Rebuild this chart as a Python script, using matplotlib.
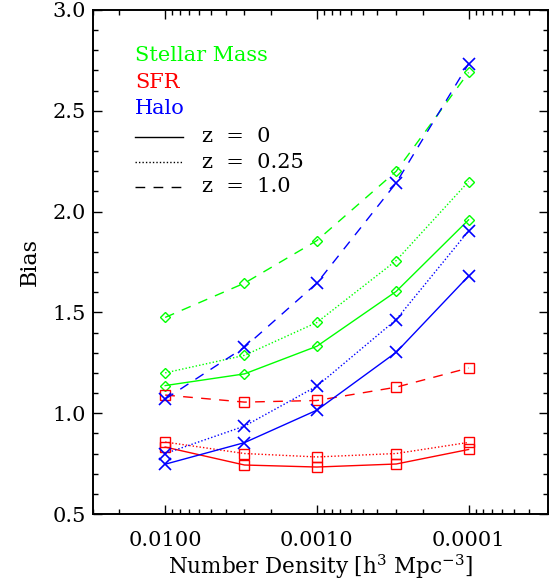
import numpy as np
import matplotlib
matplotlib.use('Agg')
import matplotlib.pyplot as plt

plt.rcParams['font.family'] = ['DejaVu Serif']
plt.rcParams['mathtext.fontset'] = 'dejavuserif'

# number density bins [h^3 Mpc^-3]
density = [0.01, 0.003, 0.001, 0.0003, 0.0001]

# bias values
stellar_z0 = [1.137, 1.195, 1.332, 1.604, 1.959]
stellar_z025 = [1.20, 1.287, 1.45, 1.757, 2.149]
stellar_z1 = [1.475, 1.645, 1.856, 2.20, 2.69]

sfr_z0 = [0.832, 0.743, 0.733, 0.748, 0.82]
sfr_z025 = [0.857, 0.80, 0.783, 0.80, 0.855]
sfr_z1 = [1.09, 1.055, 1.063, 1.129, 1.224]

halo_z0 = [0.747, 0.854, 1.015, 1.302, 1.68]
halo_z025 = [0.80, 0.936, 1.134, 1.464, 1.904]
halo_z1 = [1.07, 1.327, 1.645, 2.142, 2.733]

green, red, blue = '#00ff00', '#ff0000', '#0000ff'
solid = '-'
dotted = (0, (1, 1.5))
dashed = (0, (7, 6))

fig = plt.figure(figsize=(5.49, 5.81), dpi=100)
ax = fig.add_axes([0.169, 0.1153, 0.829, 0.8676])

# Stellar mass - diamonds
for vals, ls in [(stellar_z0, solid), (stellar_z025, dotted), (stellar_z1, dashed)]:
    ax.plot(density, vals, linestyle=ls, color=green, lw=1, marker='D', ms=5,
            mfc='none', mec=green, mew=1)
# SFR - squares
for vals, ls in [(sfr_z0, solid), (sfr_z025, dotted), (sfr_z1, dashed)]:
    ax.plot(density, vals, linestyle=ls, color=red, lw=1, marker='s', ms=7.5,
            mfc='none', mec=red, mew=1)
# Halo - crosses
for vals, ls in [(halo_z0, solid), (halo_z025, dotted), (halo_z1, dashed)]:
    ax.plot(density, vals, linestyle=ls, color=blue, lw=1, marker='x', ms=8,
            mec=blue, mew=1.2)

ax.set_xscale('log')
ax.set_xlim(0.03, 3e-5)
ax.set_ylim(0.5, 3.0)
ax.set_xticks([0.01, 0.001, 0.0001])
ax.set_xticklabels(['0.0100', '0.0010', '0.0001'])
ax.set_yticks([0.5, 1.0, 1.5, 2.0, 2.5, 3.0])
ax.set_yticks(np.arange(0.5, 3.0, 0.1), minor=True)
ax.set_yticklabels(['0.5', '1.0', '1.5', '2.0', '2.5', '3.0'])

ax.tick_params(which='both', direction='in', top=True, right=True, width=1)
ax.tick_params(which='major', length=6.5, labelsize=15)
ax.tick_params(which='minor', length=3.3)
ax.tick_params(axis='x', which='major', pad=12)
ax.tick_params(axis='y', which='major', pad=5)
for s in ax.spines.values():
    s.set_linewidth(1.4)

ax.set_xlabel(r'Number Density [h$^3$ Mpc$^{-3}$]', fontsize=15.5, labelpad=2)
ax.set_ylabel('Bias', fontsize=16, labelpad=8)

# legend block
tx = 0.093
ax.text(tx, 0.909, 'Stellar Mass', color=green, fontsize=15, va='center', transform=ax.transAxes)
ax.text(tx, 0.857, 'SFR', color=red, fontsize=15, va='center', transform=ax.transAxes)
ax.text(tx, 0.804, 'Halo', color=blue, fontsize=15, va='center', transform=ax.transAxes)
for ypos, ls, lab in [(0.748, solid, 'z  =  0'), (0.698, dotted, 'z  =  0.25'),
                      (0.649, dashed, 'z  =  1.0')]:
    ax.plot([0.093, 0.199], [ypos, ypos], linestyle=ls, color='black', lw=1,
            transform=ax.transAxes)
    ax.text(0.240, ypos, lab, color='black', fontsize=15, va='center', transform=ax.transAxes)

fig.savefig('out.png', dpi=100)
